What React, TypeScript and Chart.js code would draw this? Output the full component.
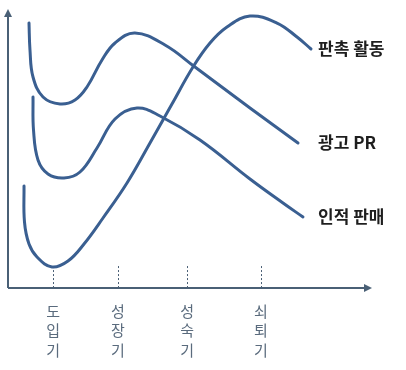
import React, { useEffect, useRef } from 'react';
import { Chart, registerables } from 'chart.js';

Chart.register(...registerables);

// Series names (labels shown at the end of each curve)
const seriesNames = ['판촉 활동', '광고 PR', '인적 판매'];

// 판촉 활동 (time 0-100, intensity 0-100)
const promoX = [4.4, 4.53, 5.77, 7.97, 12.09, 16.48, 20.88, 26.1, 32.69, 39.01, 45.05, 50.82, 55.49, 60.16, 66.48, 73.9, 79.4, 83.24];
const promoY = [36.69, 23.74, 15.83, 11.15, 7.55, 9.71, 15.83, 25.18, 37.77, 52.16, 66.19, 79.5, 88.13, 93.88, 97.84, 95.32, 90.29, 85.97];

// 광고 PR
const adX = [5.77, 6.04, 6.87, 9.62, 14.29, 18.41, 21.7, 25.82, 29.4, 34.89, 43.13, 51.37, 66.48, 79.67];
const adY = [95.32, 85.61, 75.9, 68.71, 66.19, 67.63, 72.3, 82.01, 88.13, 91.73, 87.41, 79.5, 64.75, 52.16];

// 인적 판매
const salesX = [6.87, 7.01, 8.24, 10.99, 15.38, 19.78, 24.45, 29.4, 35.44, 41.76, 52.75, 66.48, 75.55, 81.04];
const salesY = [68.71, 56.83, 46.04, 41.01, 39.57, 41.73, 50.36, 60.79, 64.75, 61.87, 53.24, 39.21, 30.58, 25.54];

// Product life-cycle stages
const stageLabels = ['도입기', '성장기', '성숙기', '쇠퇴기'];
const stageX = [12.4, 30.2, 49.2, 69.5];
const stageTickTop = 7.9;

const CURVE_COLOR = '#3A5F91';
const AXIS_COLOR = '#4A6076';

const toPoints = (xs: number[], ys: number[]) => xs.map((x, i) => ({ x, y: ys[i] }));

const decorPlugin = {
  id: 'decor',
  beforeDatasetsDraw(chart: any) {
    const { ctx, chartArea, scales } = chart;
    const { left, right, top, bottom } = chartArea;
    ctx.save();
    // axes
    ctx.strokeStyle = AXIS_COLOR;
    ctx.fillStyle = AXIS_COLOR;
    ctx.lineWidth = 2;
    ctx.beginPath();
    ctx.moveTo(left, bottom);
    ctx.lineTo(left, top + 5);
    ctx.moveTo(left, bottom);
    ctx.lineTo(right - 5, bottom);
    ctx.stroke();
    // arrow heads
    ctx.beginPath();
    ctx.moveTo(left, top - 1);
    ctx.lineTo(left - 4, top + 7);
    ctx.lineTo(left + 4, top + 7);
    ctx.closePath();
    ctx.fill();
    ctx.beginPath();
    ctx.moveTo(right, bottom);
    ctx.lineTo(right - 8, bottom - 4);
    ctx.lineTo(right - 8, bottom + 4);
    ctx.closePath();
    ctx.fill();

    // stage dotted ticks
    ctx.lineWidth = 1;
    ctx.setLineDash([2, 2]);
    const yTop = scales.y.getPixelForValue(stageTickTop);
    stageX.forEach((sx) => {
      const px = Math.round(scales.x.getPixelForValue(sx)) + 0.5;
      ctx.beginPath();
      ctx.moveTo(px, yTop);
      ctx.lineTo(px, bottom - 1);
      ctx.stroke();
    });
    ctx.setLineDash([]);

    // stage labels (vertical)
    ctx.fillStyle = '#5A6B7D';
    ctx.font = '15px "Noto Sans CJK KR", sans-serif';
    ctx.textAlign = 'center';
    ctx.textBaseline = 'middle';
    stageLabels.forEach((lab, i) => {
      const px = scales.x.getPixelForValue(stageX[i]);
      Array.from(lab).forEach((ch, j) => {
        ctx.fillText(ch, px, bottom + 23 + j * 19.5);
      });
    });
    ctx.restore();
  },
  afterDatasetsDraw(chart: any) {
    const { ctx, chartArea, scales } = chart;
    ctx.save();
    ctx.fillStyle = '#1E1E1E';
    ctx.font = 'bold 17px "Noto Sans CJK KR", sans-serif';
    ctx.textAlign = 'left';
    ctx.textBaseline = 'middle';
    const labelX = chartArea.right - 54;
    chart.data.datasets.forEach((ds: any) => {
      const last = ds.data[ds.data.length - 1];
      const py = scales.y.getPixelForValue(last.y);
      ctx.fillText(ds.label, labelX, py);
    });
    ctx.restore();
  },
};

export default function App() {
  const canvasRef = useRef<HTMLCanvasElement | null>(null);

  useEffect(() => {
    if (!canvasRef.current) return;
    const mk = (label: string, xs: number[], ys: number[]) => ({
      label,
      data: toPoints(xs, ys),
      borderColor: CURVE_COLOR,
      borderWidth: 3,
      pointRadius: 0,
      tension: 0.4,
      fill: false,
      borderCapStyle: 'round' as const,
      borderJoinStyle: 'round' as const,
      clip: false as any,
    });
    const chart = new Chart(canvasRef.current, {
      type: 'line',
      data: {
        datasets: [
          mk(seriesNames[0], promoX, promoY),
          mk(seriesNames[1], adX, adY),
          mk(seriesNames[2], salesX, salesY),
        ],
      },
      options: {
        animation: false,
        responsive: false,
        maintainAspectRatio: false,
        layout: { padding: { left: 8, right: 34, top: 10, bottom: 82 } },
        scales: {
          x: { type: 'linear', min: 0, max: 100, display: false },
          y: { type: 'linear', min: 0, max: 100, display: false },
        },
        plugins: {
          legend: { display: false },
          tooltip: { enabled: false },
        },
        events: [],
      },
      plugins: [decorPlugin],
    });
    return () => chart.destroy();
  }, []);

  return (
    <div style={{ position: 'fixed', left: 0, top: 0, width: 406, height: 370, background: '#fff' }}>
      <canvas ref={canvasRef} width={406} height={370} style={{ display: 'block' }} />
    </div>
  );
}
